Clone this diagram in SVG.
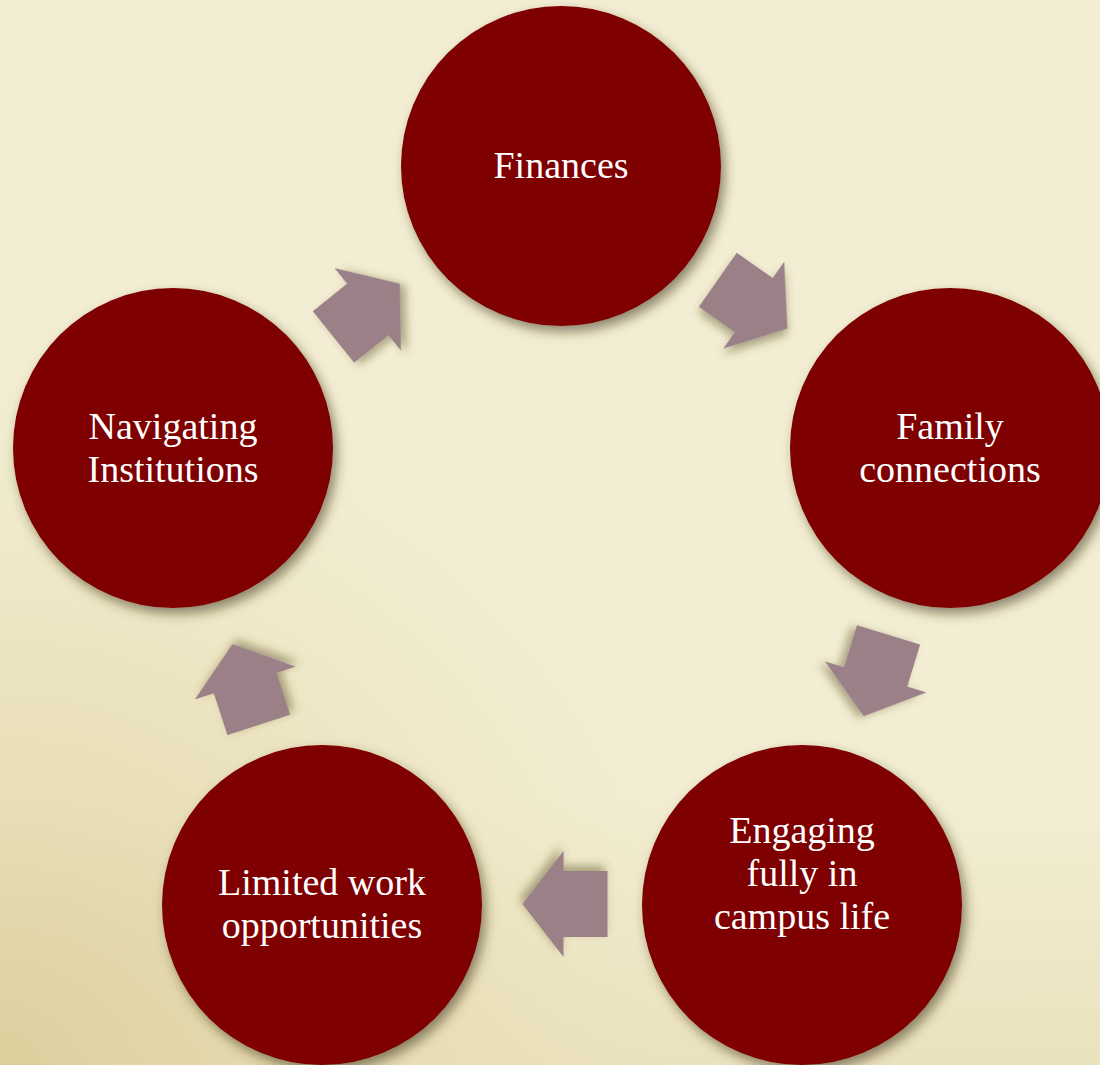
<svg xmlns="http://www.w3.org/2000/svg" width="1100" height="1065" viewBox="0 0 1100 1065">
<style>
.node circle{fill:#7e0202;filter:url(#sh);}
.node text{fill:#ffffff;font-family:"Liberation Serif","Times New Roman",serif;font-size:38px;text-anchor:middle;}
.arr{fill:#9b8087;filter:url(#ash);}
</style>
<defs>
<radialGradient id="vig" cx="0" cy="1" r="0.75">
<stop offset="0" stop-color="#d9ca95" stop-opacity="0.8"/>
<stop offset="0.5" stop-color="#e3d7a8" stop-opacity="0.45"/>
<stop offset="1" stop-color="#f2edd1" stop-opacity="0"/>
</radialGradient>
<linearGradient id="bot" x1="0" y1="0" x2="0" y2="1">
<stop offset="0.75" stop-color="#e2d6a8" stop-opacity="0"/>
<stop offset="1" stop-color="#e2d6a8" stop-opacity="0.5"/>
</linearGradient>
<filter id="sh" x="-20%" y="-20%" width="150%" height="150%">
<feDropShadow dx="4" dy="6" stdDeviation="6" flood-color="#3a3210" flood-opacity="0.55"/>
</filter>
<filter id="ash" x="-30%" y="-30%" width="170%" height="170%">
<feDropShadow dx="3" dy="5" stdDeviation="5" flood-color="#4a4218" flood-opacity="0.45"/>
</filter>
<path id="arrow" d="M -43,-33 L 1,-33 L 1,-53 L 42,0 L 1,53 L 1,33 L -43,33 Z"/>
</defs>
<rect width="1100" height="1065" fill="#f3eed3"/>
<rect width="1100" height="1065" fill="url(#bot)"/>
<rect width="1100" height="1065" fill="url(#vig)"/>
<g id="connectors">
<use href="#arrow" class="arr" transform="translate(367,310) rotate(-38.8)"/>
<use href="#arrow" class="arr" transform="translate(753,304.5) rotate(35)"/>
<use href="#arrow" class="arr" transform="translate(876,676) rotate(107)"/>
<use href="#arrow" class="arr" transform="translate(564.5,904) rotate(180)"/>
<use href="#arrow" class="arr" transform="translate(245.5,684) rotate(-108)"/>
</g>
<g id="node-finances" class="node">
<circle cx="561" cy="166" r="160"/>
<text x="561" y="178">Finances</text>
</g>
<g id="node-family" class="node">
<circle cx="950" cy="448" r="160"/>
<text x="950" y="439">Family</text>
<text x="950" y="482">connections</text>
</g>
<g id="node-engaging" class="node">
<circle cx="802" cy="905" r="160"/>
<text x="802" y="843">Engaging</text>
<text x="802" y="886">fully in</text>
<text x="802" y="929">campus life</text>
</g>
<g id="node-limited" class="node">
<circle cx="322" cy="905" r="160"/>
<text x="322" y="895">Limited work</text>
<text x="322" y="938">opportunities</text>
</g>
<g id="node-navigating" class="node">
<circle cx="173" cy="448" r="160"/>
<text x="173" y="439">Navigating</text>
<text x="173" y="482">Institutions</text>
</g>
</svg>
